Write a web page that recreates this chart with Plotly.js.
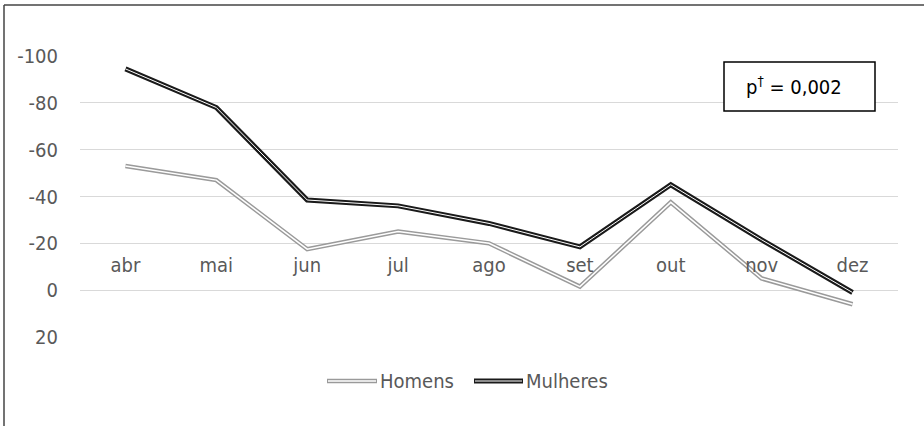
<!DOCTYPE html>
<html>
<head>
<meta charset="utf-8">
<script src="https://cdn.plot.ly/plotly-3.0.1.min.js"></script>
<style>
html,body{margin:0;padding:0;background:#fff;}
#chart{width:924px;height:426px;}
</style>
</head>
<body>
<div id="chart"></div>
<script>
// ---- data ----
const months = ["abr","mai","jun","jul","ago","set","out","nov","dez"];
const homens = [-53, -47, -17.5, -25, -20, -1.5, -37.5, -5, 6];
const mulheres = [-94.5, -78, -38.5, -36, -28.5, -18.5, -45, -21.5, 1];
const seriesNames = ["Homens", "Mulheres"];
const yTickVals = [-100, -80, -60, -40, -20, 0, 20];
const yTickText = ["-100", "-80", "-60", "-40", "-20", "0", "20"];
const pText = "p<sup>†</sup> = 0,002";

// ---- layout constants ----
const W = 924, H = 426;
const L = 80, R = 26, T = 56, B = 89;
const pw = W - L - R, ph = H - T - B;
const px = x => (x - L) / pw;
const py = y => (H - B - y) / ph;
const FONT = '"DejaVu Sans Condensed", "DejaVu Sans", sans-serif';
const GREY_TXT = '#595959';

const traces = [
  {x: months, y: homens, type: 'scatter', mode: 'lines', name: seriesNames[0], showlegend: false,
   line: {color: '#9a9a9a', width: 4.5}, hoverinfo: 'skip'},
  {x: months, y: homens, type: 'scatter', mode: 'lines', showlegend: false,
   line: {color: '#ffffff', width: 1.5}, hoverinfo: 'skip'},
  {x: months, y: mulheres, type: 'scatter', mode: 'lines', name: seriesNames[1], showlegend: false,
   line: {color: '#1a1a1a', width: 5}, hoverinfo: 'skip'},
  {x: months, y: mulheres, type: 'scatter', mode: 'lines', showlegend: false,
   line: {color: '#ffffff', width: 1}, hoverinfo: 'skip'}
];

const zeroPos = (20 - 0) / (20 - (-100)); // fraction of plot height where y=0 lies

const layout = {
  width: W, height: H,
  margin: {l: L, r: R, t: T, b: B, pad: 0},
  paper_bgcolor: '#fff', plot_bgcolor: '#fff',
  font: {family: FONT, size: 20, color: GREY_TXT},
  showlegend: false,
  xaxis: {
    type: 'category', side: 'top', anchor: 'free', position: zeroPos,
    showgrid: false, zeroline: false, showline: false,
    ticks: 'outside', ticklen: 10, tickcolor: 'rgba(0,0,0,0)',
    tickfont: {family: FONT, size: 20, color: GREY_TXT},
    range: [-0.5, months.length - 0.5]
  },
  yaxis: {
    range: [20, -100],
    tickvals: yTickVals, ticktext: yTickText,
    showgrid: true, gridcolor: '#d9d9d9', gridwidth: 1.3,
    zeroline: false, showline: false,
    ticks: 'outside', ticklen: 17, tickcolor: 'rgba(0,0,0,0)',
    tickfont: {family: FONT, size: 20, color: GREY_TXT}
  },
  shapes: [
    // outer chart border (top and left)
    {type: 'line', xref: 'paper', yref: 'paper', x0: px(4), x1: px(930), y0: py(5), y1: py(5),
     line: {color: '#444', width: 1.5}},
    {type: 'line', xref: 'paper', yref: 'paper', x0: px(4), x1: px(4), y0: py(5), y1: py(430),
     line: {color: '#444', width: 1.5}},
    // p-value box
    {type: 'rect', xref: 'paper', yref: 'paper', x0: px(724), x1: px(875), y0: py(62), y1: py(111),
     line: {color: '#000', width: 1.5}, fillcolor: '#fff', layer: 'above'},
    // legend symbols
    {type: 'line', xref: 'paper', yref: 'paper', x0: px(327), x1: px(377), y0: py(381), y1: py(381),
     line: {color: '#9a9a9a', width: 4.5}},
    {type: 'line', xref: 'paper', yref: 'paper', x0: px(328), x1: px(376), y0: py(381), y1: py(381),
     line: {color: '#ffffff', width: 1.5}},
    {type: 'line', xref: 'paper', yref: 'paper', x0: px(474), x1: px(523), y0: py(381), y1: py(381),
     line: {color: '#1a1a1a', width: 5}},
    {type: 'line', xref: 'paper', yref: 'paper', x0: px(475), x1: px(522), y0: py(381), y1: py(381),
     line: {color: '#ffffff', width: 1}}
  ],
  annotations: [
    {xref: 'paper', yref: 'paper', x: px(378), y: py(381), xanchor: 'left', yanchor: 'middle',
     text: seriesNames[0], showarrow: false, font: {family: FONT, size: 20, color: GREY_TXT}},
    {xref: 'paper', yref: 'paper', x: px(524), y: py(381), xanchor: 'left', yanchor: 'middle',
     text: seriesNames[1], showarrow: false, font: {family: FONT, size: 20, color: GREY_TXT}},
    {xref: 'paper', yref: 'paper', x: px(744), y: py(86), xanchor: 'left', yanchor: 'middle',
     text: pText, showarrow: false,
     font: {family: FONT, size: 20, color: '#000'}}
  ]
};

Plotly.newPlot('chart', traces, layout, {displayModeBar: false, staticPlot: true});
</script>
</body>
</html>
